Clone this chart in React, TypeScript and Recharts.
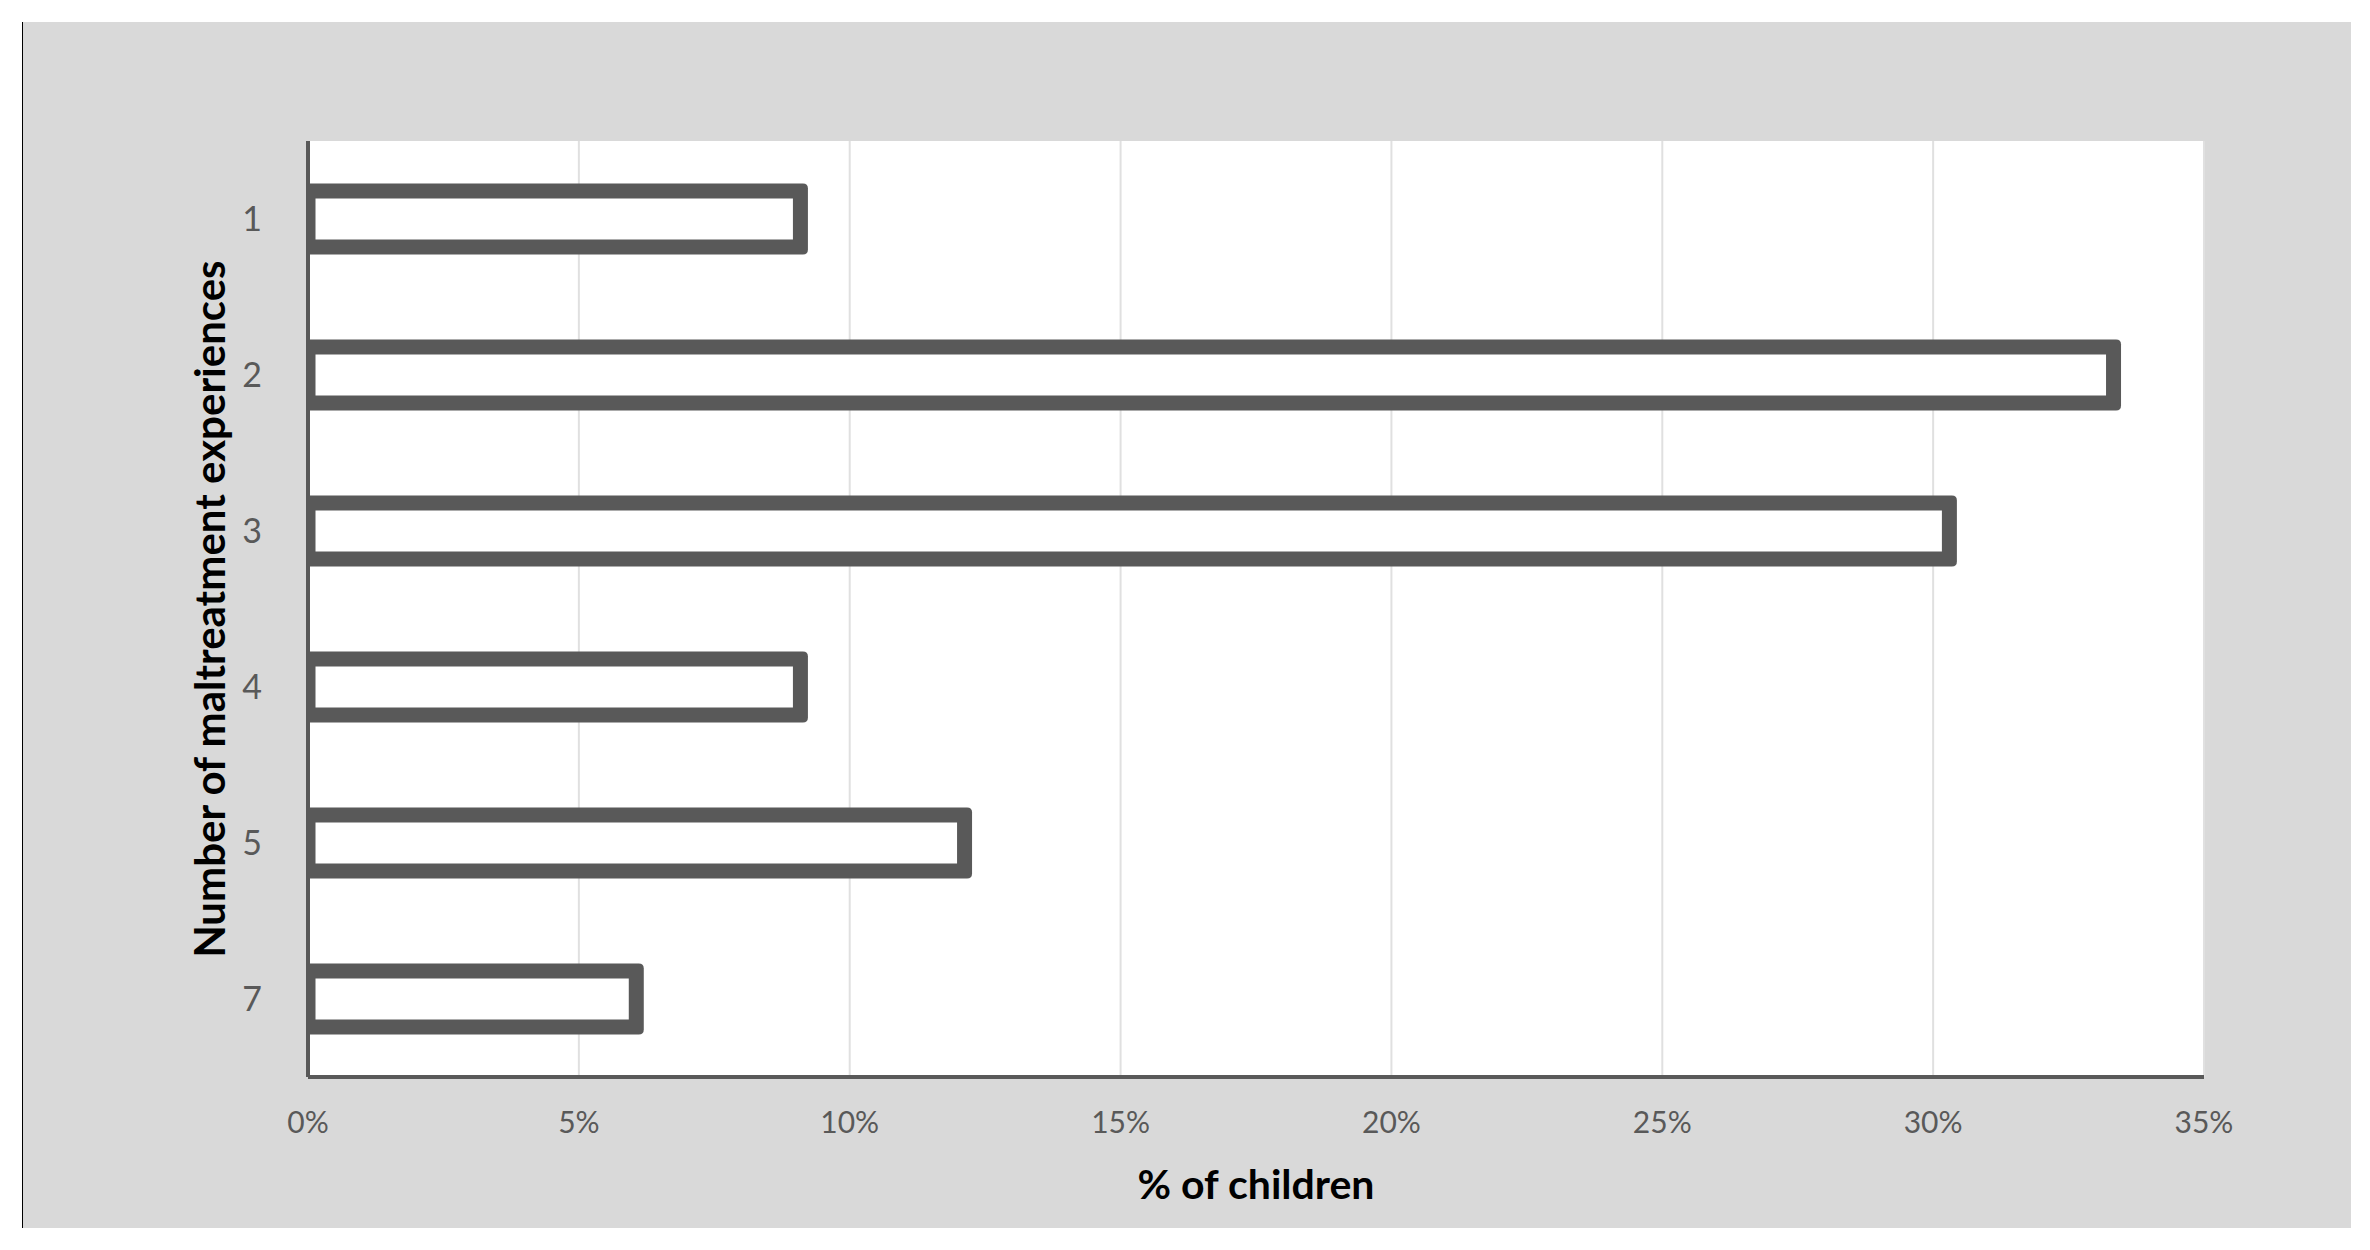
import { BarChart, Bar, XAxis, YAxis, CartesianGrid } from 'recharts';

// share of children by number of maltreatment experiences (n = 33)
const categories = ['1', '2', '3', '4', '5', '7'];
const percentOfChildren = [9.09, 33.33, 30.3, 9.09, 12.12, 6.06];
const xTicks = [0, 5, 10, 15, 20, 25, 30, 35];

const data = categories.map((label, i) => ({ label, value: percentOfChildren[i] }));

const DARK = '#595959';
const FONT = 'Lato, Carlito, "Open Sans", sans-serif';

const OutlineBar = (props: any) => {
  const { x, y, width, height } = props;
  const sw = 15;
  const r = 5;
  const x0 = x;
  const x1 = x + width + sw / 2;
  const y0 = y - sw / 2;
  const y1 = y + height + sw / 2;
  const d = `M${x0},${y0} H${x1 - r} Q${x1},${y0} ${x1},${y0 + r} V${y1 - r} Q${x1},${y1} ${x1 - r},${y1} H${x0} Z`;
  return (
    <g>
      <path d={d} fill={DARK} />
      <rect x={x + sw / 2} y={y + sw / 2} width={Math.max(width - sw, 0)} height={height - sw} fill="#fff" />
    </g>
  );
};

const YTitle = (props: any) => {
  const vb = props.viewBox;
  const cx = vb.x + vb.width - 99;
  const cy = vb.y + vb.height / 2;
  return (
    <text
      x={cx}
      y={cy}
      transform={`rotate(-90 ${cx} ${cy})`}
      textAnchor="middle"
      dominantBaseline="central"
      fontFamily={FONT}
      fontWeight={700}
      fontSize={42}
      fill="#000"
    >
      Number of maltreatment experiences
    </text>
  );
};

export default function App() {
  return (
    <div style={{ position: 'absolute', left: 0, top: 0, width: 2370, height: 1250, background: '#fff' }}>
      <div
        style={{
          position: 'absolute',
          left: 22,
          top: 22,
          width: 2329,
          height: 1206,
          background: '#d9d9d9',
          borderLeft: '1px solid #000',
          boxSizing: 'border-box',
        }}
      />
      <div style={{ position: 'absolute', left: 0, top: 0 }}>
        <BarChart
          width={2370}
          height={1250}
          data={data}
          layout="vertical"
          margin={{ top: 141, right: 166, bottom: 113, left: 0 }}
          barSize={56}
        >
          <CartesianGrid horizontal={false} stroke="#e0e0e0" strokeWidth={2} fill="#fff" />
          <Bar dataKey="value" shape={OutlineBar} isAnimationActive={false} />
          <XAxis
            type="number"
            domain={[0, 35]}
            ticks={xTicks}
            tickFormatter={(v) => `${v}%`}
            height={60}
            axisLine={{ stroke: DARK, strokeWidth: 4 }}
            tickLine={false}
            tickSize={0}
            tickMargin={35}
            tick={{ fill: DARK, fontSize: 30, fontFamily: FONT }}
            label={{
              value: '% of children',
              position: 'bottom',
              offset: 33,
              fill: '#000',
              fontSize: 41,
              fontWeight: 700,
              fontFamily: FONT,
            }}
          />
          <YAxis
            type="category"
            dataKey="label"
            width={308}
            axisLine={{ stroke: DARK, strokeWidth: 4 }}
            tickLine={false}
            tickSize={0}
            tickMargin={46}
            tick={{ fill: DARK, fontSize: 34, fontFamily: FONT }}
            label={<YTitle />}
          />
        </BarChart>
      </div>
    </div>
  );
}
